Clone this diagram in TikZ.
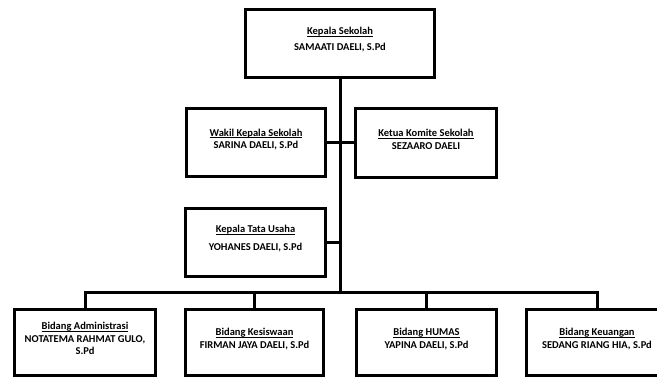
\documentclass[tikz,border=0pt]{standalone}
\usepackage{fontspec}
\setmainfont{Carlito}
\newcommand{\garisbawah}[1]{\underline{\smash{#1}}}

\begin{document}
\begin{tikzpicture}[x=1pt,y=-1pt,every text node part/.style={align=center},
  jabatan/.style={draw, shape=rectangle, line width=3pt, minimum height=68pt,
    inner sep=1pt, font=\fontsize{10.5}{12.5}\selectfont\bfseries},
  garis/.style={line width=3pt}]
  \clip (0,0) rectangle (657,379);
  \node (kepsek) [jabatan, minimum width=189pt] at (340,43.5) {\garisbawah{Kepala Sekolah}\\[3.5pt] SAMAATI DAELI, S.Pd};
  \node (wakil) [jabatan, minimum width=139pt] at (256,143) {\garisbawah{Wakil Kepala Sekolah}\\ SARINA DAELI, S.Pd};
  \node (ketua) [jabatan, minimum width=141pt, minimum height=69pt] at (426,143) {\garisbawah{Ketua Komite Sekolah}\\ SEZAARO DAELI};
  \node (tu) [jabatan, minimum width=140pt] at (255.5,242.5) {\garisbawah{Kepala Tata Usaha}\\[5.5pt] YOHANES DAELI, S.Pd};
  \node (adm) [jabatan, minimum width=141pt, minimum height=66pt] at (85,342.5) {\garisbawah{Bidang Administrasi}\\ NOTATEMA RAHMAT GULO,\\ S.Pd};
  \node (kes) [jabatan, minimum width=138pt, minimum height=66pt] at (254.5,342.5) {\garisbawah{Bidang Kesiswaan}\\ FIRMAN JAYA DAELI, S.Pd};
  \node (humas) [jabatan, minimum width=140pt, minimum height=66pt] at (426.5,342.5) {\garisbawah{Bidang HUMAS}\\ YAPINA DAELI, S.Pd};
  \node (keu) [jabatan, minimum width=141pt, minimum height=66pt] at (597,342.5) {\garisbawah{Bidang Keuangan}\\ SEDANG RIANG HIA, S.Pd};
  \coordinate (cabang) at (340,293);
  \draw[garis] (kepsek.south) -- (cabang);
  \draw[garis] (wakil) -- (ketua);
  \draw[garis] (tu.east) -- (tu.east -| cabang);
  \draw[garis] (adm.north) -- (adm.north |- cabang) -- (keu.north |- cabang) -- (keu.north);
  \draw[garis] (kes.north) -- (kes.north |- cabang);
  \draw[garis] (humas.north) -- (humas.north |- cabang);
\end{tikzpicture}
\end{document}
